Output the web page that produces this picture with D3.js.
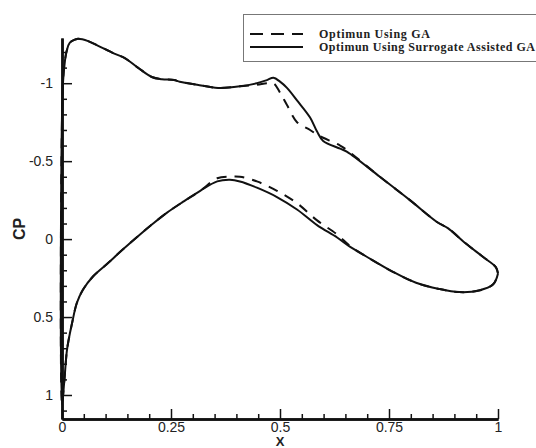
<!DOCTYPE html>
<html>
<head>
<meta charset="utf-8">
<script src="https://cdn.jsdelivr.net/npm/d3@7"></script>
<style>
  html, body { margin: 0; padding: 0; background: #ffffff; }
  svg { display: block; }
</style>
</head>
<body>
<svg id="chart" width="536" height="448"></svg>
<script>
// ---- data ----
const seriesNames = ["Optimun Using GA", "Optimun Using Surrogate Assisted GA"];

const upperX = [0, 0.002, 0.007, 0.011, 0.018, 0.03, 0.037, 0.06, 0.083, 0.12, 0.145, 0.174, 0.206, 0.229, 0.257, 0.27, 0.31, 0.358, 0.408, 0.447, 0.47, 0.485, 0.50, 0.516, 0.539, 0.569, 0.585, 0.599, 0.638, 0.654, 0.729, 0.798, 0.86, 0.885, 0.927, 0.966, 0.995, 1.0];
const upperCpSAGA = [1.06, -0.99, -1.15, -1.21, -1.26, -1.28, -1.285, -1.27, -1.24, -1.19, -1.16, -1.10, -1.04, -1.026, -1.02, -1.01, -0.99, -0.97, -0.98, -1.0, -1.02, -1.035, -1.01, -0.97, -0.89, -0.78, -0.69, -0.63, -0.58, -0.56, -0.40, -0.25, -0.11, -0.07, 0.03, 0.115, 0.18, 0.22];
const upperCpGA = [1.06, -0.99, -1.15, -1.21, -1.26, -1.28, -1.285, -1.27, -1.24, -1.19, -1.16, -1.10, -1.04, -1.026, -1.02, -1.01, -0.99, -0.97, -0.98, -0.99, -1.0, -1.0, -0.94, -0.86, -0.75, -0.70, -0.67, -0.65, -0.60, -0.57, -0.40, -0.25, -0.11, -0.07, 0.03, 0.115, 0.18, 0.22];

const lowerX = [0, 0.005, 0.011, 0.015, 0.023, 0.034, 0.048, 0.071, 0.105, 0.138, 0.179, 0.209, 0.241, 0.278, 0.317, 0.356, 0.385, 0.408, 0.447, 0.493, 0.539, 0.585, 0.631, 0.661, 0.697, 0.759, 0.812, 0.865, 0.911, 0.956, 0.989, 1.0];
const lowerCpSAGA = [1.06, 0.92, 0.72, 0.65, 0.54, 0.41, 0.325, 0.24, 0.155, 0.07, -0.03, -0.10, -0.17, -0.24, -0.31, -0.37, -0.38, -0.37, -0.33, -0.27, -0.19, -0.09, -0.01, 0.05, 0.11, 0.21, 0.28, 0.32, 0.34, 0.33, 0.29, 0.22];
const lowerCpGA = [1.06, 0.92, 0.72, 0.65, 0.54, 0.41, 0.325, 0.24, 0.155, 0.07, -0.03, -0.10, -0.17, -0.24, -0.31, -0.39, -0.40, -0.40, -0.37, -0.31, -0.23, -0.12, -0.03, 0.045, 0.11, 0.21, 0.28, 0.32, 0.34, 0.33, 0.29, 0.22];

const xTickValues = [0, 0.25, 0.5, 0.75, 1];
const xTickLabels = ["0", "0.25", "0.5", "0.75", "1"];
const yTickValues = [-1, -0.5, 0, 0.5, 1];
const yTickLabels = ["-1", "-0.5", "0", "0.5", "1"];

// ---- layout ----
const svg = d3.select("#chart");
const x = d3.scaleLinear().domain([0, 1]).range([62, 498]);
const y = d3.scaleLinear().domain([-1.29, 1.154]).range([38, 419]);

function loop(cpU, cpL) {
  const pts = [];
  for (let i = upperX.length - 1; i >= 0; i--) pts.push([upperX[i], cpU[i]]);
  for (let i = 1; i < lowerX.length; i++) pts.push([lowerX[i], cpL[i]]);
  return pts;
}

const line = d3.line()
  .x(d => x(d[0]))
  .y(d => y(d[1]))
  .curve(d3.curveCatmullRom.alpha(0.5));

// curves
svg.append("path")
  .attr("d", line(loop(upperCpGA, lowerCpGA)))
  .attr("fill", "none").attr("stroke", "#111").attr("stroke-width", 2)
  .attr("stroke-dasharray", "10,8");
svg.append("path")
  .attr("d", line(loop(upperCpSAGA, lowerCpSAGA)))
  .attr("fill", "none").attr("stroke", "#111").attr("stroke-width", 2);

// axes
const axisFont = "'Liberation Sans', Arial, sans-serif";
const yMinor = d3.range(-12, 12).map(v => v / 10).filter(v => yTickValues.indexOf(v) < 0);
const xMinor = d3.range(0, 21).map(v => v / 20).filter(v => xTickValues.indexOf(v) < 0);

const gy = svg.append("g").attr("transform", "translate(62,0)");
gy.call(d3.axisLeft(y).tickValues(yMinor).tickSize(-5).tickSizeOuter(0).tickFormat(""));
gy.append("g").call(d3.axisLeft(y).tickValues(yTickValues).tickSize(-10).tickSizeOuter(0)
  .tickPadding(9).tickFormat((d, i) => yTickLabels[i]));

const gx = svg.append("g").attr("transform", "translate(0,419)");
gx.call(d3.axisBottom(x).tickValues(xMinor).tickSize(-5).tickSizeOuter(0).tickFormat(""));
gx.append("g").call(d3.axisBottom(x).tickValues(xTickValues).tickSize(-10).tickSizeOuter(0)
  .tickPadding(3).tickFormat((d, i) => xTickLabels[i]));

svg.selectAll(".domain").attr("stroke", "#111").attr("stroke-width", 2.5);
svg.selectAll(".tick line").attr("stroke", "#111").attr("stroke-width", 1.5);
svg.selectAll(".tick text").attr("font-family", axisFont).attr("font-size", 14).attr("fill", "#222");

// axis titles
svg.append("text")
  .attr("transform", "translate(25,229) rotate(-90)")
  .attr("text-anchor", "middle")
  .attr("font-family", axisFont).attr("font-weight", "bold").attr("font-size", 16)
  .attr("fill", "#222")
  .text("CP");
svg.append("text")
  .attr("x", 280).attr("y", 446)
  .attr("text-anchor", "middle")
  .attr("font-family", axisFont).attr("font-weight", "bold").attr("font-size", 13)
  .attr("fill", "#222")
  .text("X");

// legend
const lg = svg.append("g");
lg.append("rect").attr("x", 243.5).attr("y", 14.5).attr("width", 300).attr("height", 47)
  .attr("fill", "#fff").attr("stroke", "#777").attr("stroke-width", 1);
const legendRows = [
  { name: seriesNames[0], dash: "13,8", y: 34, len: 111 },
  { name: seriesNames[1], dash: null, y: 47, len: 216 }
];
legendRows.forEach(r => {
  lg.append("line").attr("x1", 250).attr("x2", 303).attr("y1", r.y).attr("y2", r.y)
    .attr("stroke", "#111").attr("stroke-width", 2)
    .attr("stroke-dasharray", r.dash);
  lg.append("text").attr("x", 319).attr("y", r.y + 4)
    .attr("font-family", "'Liberation Serif', 'Times New Roman', serif")
    .attr("font-weight", "bold").attr("font-size", 12).attr("fill", "#222")
    .attr("textLength", r.len).attr("lengthAdjust", "spacing")
    .text(r.name);
});
</script>
</body>
</html>
